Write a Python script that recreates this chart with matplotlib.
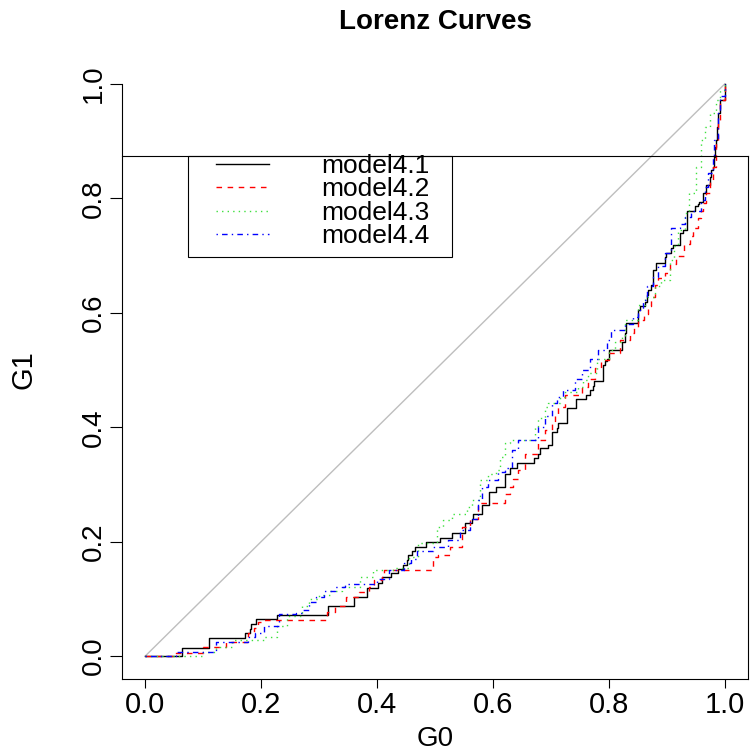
import numpy as np
import matplotlib
matplotlib.use("Agg")
import matplotlib.pyplot as plt
from matplotlib.patches import Rectangle

# ---- Lorenz curve data (G0 = cumulative population share, G1 = cumulative share) ----
labels = ["model4.1", "model4.2", "model4.3", "model4.4"]

g0_m41 = [0, 0.063, 0.110, 0.172, 0.180, 0.183, 0.191, 0.228, 0.315, 0.361, 0.382, 0.402,
          0.408, 0.424, 0.436, 0.444, 0.451, 0.454, 0.461, 0.466, 0.484, 0.509, 0.529,
          0.551, 0.563, 0.566, 0.581, 0.593, 0.605, 0.621, 0.629, 0.642, 0.670, 0.678,
          0.681, 0.695, 0.701, 0.710, 0.713, 0.727, 0.744, 0.761, 0.767, 0.773, 0.774,
          0.790, 0.793, 0.796, 0.800, 0.822, 0.827, 0.830, 0.850, 0.853, 0.862, 0.865,
          0.867, 0.873, 0.876, 0.882, 0.896, 0.899, 0.908, 0.911, 0.922, 0.923, 0.928,
          0.935, 0.948, 0.953, 0.956, 0.962, 0.968, 0.974, 0.976, 0.979, 0.982, 0.983,
          0.985, 0.986, 0.988, 0.991, 1.0]
g1_m41 = [0, 0.015, 0.031, 0.040, 0.048, 0.056, 0.064, 0.072, 0.087, 0.104, 0.119, 0.128,
          0.138, 0.145, 0.152, 0.159, 0.168, 0.177, 0.184, 0.191, 0.200, 0.207, 0.216,
          0.232, 0.239, 0.249, 0.264, 0.287, 0.296, 0.319, 0.328, 0.337, 0.346, 0.354,
          0.363, 0.369, 0.392, 0.398, 0.408, 0.433, 0.450, 0.456, 0.465, 0.472, 0.481,
          0.509, 0.515, 0.520, 0.535, 0.549, 0.564, 0.583, 0.605, 0.611, 0.619, 0.631,
          0.640, 0.649, 0.675, 0.687, 0.698, 0.704, 0.713, 0.719, 0.727, 0.739, 0.745,
          0.777, 0.786, 0.790, 0.794, 0.809, 0.823, 0.838, 0.850, 0.855, 0.873, 0.890,
          0.902, 0.925, 0.949, 0.972, 1.0]

g0_m42 = [0, 0.050, 0.100, 0.139, 0.177, 0.187, 0.194, 0.200, 0.313, 0.327, 0.346, 0.369,
          0.386, 0.394, 0.408, 0.412, 0.497, 0.506, 0.526, 0.546, 0.560, 0.575, 0.621,
          0.629, 0.635, 0.644, 0.655, 0.678, 0.690, 0.701, 0.707, 0.713, 0.724, 0.753,
          0.764, 0.776, 0.787, 0.800, 0.819, 0.836, 0.844, 0.850, 0.860, 0.867, 0.873,
          0.879, 0.885, 0.896, 0.905, 0.915, 0.930, 0.940, 0.945, 0.953, 0.959, 0.963,
          0.968, 0.974, 0.979, 0.985, 0.988, 0.991, 1.0]
g1_m42 = [0, 0.005, 0.016, 0.024, 0.040, 0.049, 0.059, 0.063, 0.077, 0.088, 0.103, 0.112,
          0.121, 0.133, 0.139, 0.151, 0.174, 0.177, 0.191, 0.226, 0.240, 0.267, 0.284,
          0.296, 0.310, 0.325, 0.354, 0.378, 0.395, 0.407, 0.419, 0.436, 0.456, 0.471,
          0.485, 0.503, 0.517, 0.530, 0.552, 0.564, 0.576, 0.587, 0.598, 0.611, 0.628,
          0.649, 0.660, 0.669, 0.685, 0.700, 0.720, 0.735, 0.748, 0.765, 0.777, 0.792,
          0.809, 0.832, 0.855, 0.896, 0.937, 0.972, 1.0]

g0_m43 = [0, 0.100, 0.122, 0.150, 0.205, 0.228, 0.245, 0.270, 0.282, 0.300, 0.318, 0.340,
          0.370, 0.393, 0.428, 0.455, 0.470, 0.503, 0.514, 0.529, 0.555, 0.563, 0.578,
          0.592, 0.606, 0.612, 0.621, 0.629, 0.672, 0.678, 0.690, 0.695, 0.715, 0.724,
          0.747, 0.755, 0.764, 0.779, 0.800, 0.810, 0.822, 0.827, 0.850, 0.862, 0.879,
          0.890, 0.905, 0.913, 0.919, 0.931, 0.939, 0.951, 0.959, 0.965, 0.974, 0.985,
          0.991, 1.0]
g1_m43 = [0, 0.008, 0.016, 0.028, 0.034, 0.052, 0.070, 0.087, 0.099, 0.107, 0.113, 0.121,
          0.139, 0.151, 0.154, 0.174, 0.197, 0.226, 0.238, 0.249, 0.261, 0.273, 0.308,
          0.319, 0.325, 0.348, 0.372, 0.378, 0.401, 0.416, 0.436, 0.442, 0.453, 0.462,
          0.471, 0.483, 0.494, 0.520, 0.535, 0.549, 0.558, 0.587, 0.614, 0.628, 0.646,
          0.657, 0.692, 0.716, 0.745, 0.774, 0.809, 0.855, 0.902, 0.925, 0.949, 0.972,
          0.990, 1.0]

g0_m44 = [0, 0.053, 0.122, 0.177, 0.189, 0.205, 0.231, 0.260, 0.272, 0.283, 0.295, 0.309,
          0.327, 0.344, 0.400, 0.420, 0.447, 0.458, 0.469, 0.497, 0.523, 0.543, 0.560,
          0.575, 0.581, 0.592, 0.609, 0.620, 0.632, 0.644, 0.678, 0.690, 0.701, 0.710,
          0.721, 0.741, 0.753, 0.767, 0.781, 0.796, 0.804, 0.827, 0.842, 0.850, 0.859,
          0.865, 0.876, 0.885, 0.896, 0.908, 0.922, 0.931, 0.942, 0.959, 0.965, 0.971,
          0.979, 0.982, 0.988, 0.991, 1.0]
g1_m44 = [0, 0.008, 0.024, 0.034, 0.040, 0.052, 0.073, 0.076, 0.080, 0.094, 0.103, 0.114,
          0.120, 0.126, 0.135, 0.150, 0.162, 0.170, 0.184, 0.190, 0.203, 0.220, 0.240,
          0.273, 0.296, 0.308, 0.322, 0.328, 0.360, 0.378, 0.401, 0.420, 0.442, 0.453,
          0.465, 0.485, 0.500, 0.520, 0.535, 0.552, 0.570, 0.581, 0.593, 0.605, 0.622,
          0.646, 0.663, 0.681, 0.704, 0.748, 0.756, 0.768, 0.777, 0.797, 0.820, 0.844,
          0.873, 0.902, 0.949, 0.978, 1.0]

equality = [0.0, 1.0]
ticks = [0.0, 0.2, 0.4, 0.6, 0.8, 1.0]
tick_labels = ["0.0", "0.2", "0.4", "0.6", "0.8", "1.0"]
box_top = 0.874

# ---- styling ----
plt.rcParams["font.family"] = ["Liberation Sans", "DejaVu Sans"]
colors = ["black", "#FF0000", "#3EE03E", "#0000FF"]
dashes = [None, (4, 4), (1, 3), (1, 3, 4, 3)]

fig = plt.figure(figsize=(7.51, 7.51), dpi=100)
ax = fig.add_axes([122 / 751, 72 / 751, 626 / 751, 618 / 751])
ax.set_xlim(-0.04, 1.04)
ax.set_ylim(-0.04, 1.04)

series = [(g0_m41, g1_m41), (g0_m42, g1_m42), (g0_m43, g1_m43), (g0_m44, g1_m44)]
handles = []
for (gx, gy), lab, col, dsh in zip(series, labels, colors, dashes):
    ln, = ax.plot(gx, gy, drawstyle="steps-post", color=col, lw=1.0, label=lab)
    if dsh is not None:
        ln.set_dashes(dsh)
    handles.append(ln)

ax.plot(equality, equality, color="#BEBEBE", lw=1.0, zorder=1)

# axes frame: open above the box line, left axis line up to the last tick
ax.spines["left"].set_bounds(-0.04, 1.0)
ax.spines["right"].set_bounds(-0.04, box_top)
ax.spines["top"].set_position(("data", box_top))
for sp in ax.spines.values():
    sp.set_linewidth(0.8)

ax.set_xticks(ticks)
ax.set_xticklabels(tick_labels)
ax.set_yticks(ticks)
ax.set_yticklabels(tick_labels, rotation=90, va="center")
ax.tick_params(axis="x", length=6.5, width=0.8, pad=2, labelsize=21)
ax.tick_params(axis="y", length=9, width=0.8, pad=2, labelsize=20)

ax.set_xlabel("G0", fontsize=20, labelpad=5)
ax.set_ylabel("G1", fontsize=21, labelpad=31)
fig.text(435 / 751, 1 - 22 / 751, "Lorenz Curves", fontsize=20, fontweight="bold",
         ha="center", va="center")

# legend entries, with the surrounding box drawn separately
leg = ax.legend(handles=handles, loc="upper left", bbox_to_anchor=(0.129, 0.871),
                frameon=False, fontsize=19, handlelength=2.0, handletextpad=2.0,
                labelspacing=-0.02, borderpad=0.0)
ax.add_patch(Rectangle((0.1054, 0.683), 0.4216, 0.163, transform=ax.transAxes,
                       fill=False, edgecolor="black", lw=0.8, zorder=5))

fig.savefig("out.png", dpi=100)
